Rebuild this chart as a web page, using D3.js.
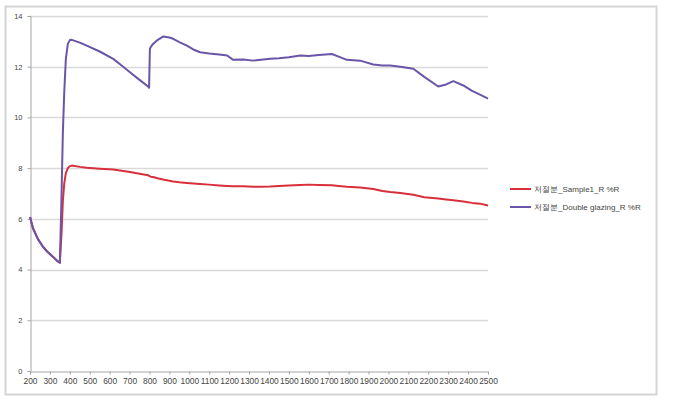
<!DOCTYPE html>
<html>
<head>
<meta charset="utf-8">
<script src="https://cdn.jsdelivr.net/npm/d3@7"></script>
<style>
  body { margin: 0; background: #fff; }
  svg { display: block; font-family: "Liberation Sans", "DejaVu Sans", sans-serif; }
</style>
</head>
<body>
<svg id="chart"></svg>
<script>
// wavelength (nm) and reflectance (%R)
const wavelength = [200, 215, 240, 265, 290, 316, 340, 350, 358, 365, 372, 380, 390, 400, 410,
  450, 485, 550, 618, 660, 702, 750, 793, 798, 802, 806, 818, 840, 868, 900, 919, 950, 988,
  1020, 1054, 1100, 1150, 1190, 1220, 1270, 1321, 1360, 1406, 1450, 1500, 1557, 1600, 1650,
  1716, 1750, 1791, 1858, 1924, 1970, 2009, 2060, 2125, 2180, 2250, 2290, 2326, 2376, 2420,
  2460, 2500];

const sample1 = [6.07, 5.63, 5.2, 4.9, 4.68, 4.5, 4.32, 4.27, 5.4, 6.7, 7.4, 7.8, 8.0, 8.08, 8.1,
  8.05, 8.02, 7.98, 7.95, 7.9, 7.85, 7.78, 7.72, 7.7, 7.68, 7.66, 7.65, 7.6, 7.55, 7.5, 7.47,
  7.44, 7.41, 7.39, 7.37, 7.35, 7.32, 7.3, 7.29, 7.29, 7.27, 7.27, 7.28, 7.3, 7.32, 7.34, 7.35,
  7.34, 7.33, 7.3, 7.27, 7.24, 7.18, 7.1, 7.06, 7.02, 6.95, 6.85, 6.8, 6.76, 6.73, 6.68, 6.63,
  6.6, 6.53];

const doubleGlazing = [6.07, 5.63, 5.2, 4.9, 4.68, 4.5, 4.32, 4.27, 6.8, 9.4, 11.0, 12.3, 12.9,
  13.05, 13.06, 12.95, 12.83, 12.6, 12.31, 12.05, 11.78, 11.48, 11.22, 11.17, 12.7, 12.77, 12.9,
  13.05, 13.19, 13.15, 13.1, 12.97, 12.83, 12.68, 12.57, 12.52, 12.48, 12.44, 12.27, 12.28, 12.24,
  12.27, 12.31, 12.33, 12.37, 12.44, 12.42, 12.46, 12.5, 12.4, 12.27, 12.24, 12.09, 12.05, 12.05,
  12.0, 11.92, 11.6, 11.22, 11.3, 11.43, 11.26, 11.05, 10.9, 10.74];

const seriesNames = ["저절분_Sample1_R %R", "저절분_Double glazing_R %R"];
const seriesColors = ["#d8303a", "#6a55a8"];
const xTicks = d3.range(200, 2501, 100);
const yTicks = [0, 2, 4, 6, 8, 10, 12, 14];

const width = 678, height = 402;
const margin = { top: 16, right: 190, bottom: 31, left: 30 };

let svg = d3.select("#chart")
  .attr("width", width)
  .attr("height", height);

// outer chart frame
svg.append("rect")
  .attr("x", 5.5).attr("y", 6.5)
  .attr("width", 651).attr("height", 388)
  .attr("fill", "none")
  .attr("stroke", "#d4d4d4")
  .attr("stroke-width", 2);

let scaleX = d3.scaleLinear().domain([200, 2500]).range([margin.left, width - margin.right]);
let scaleY = d3.scaleLinear().domain([0, 14]).range([height - margin.bottom, margin.top]);

// horizontal gridlines
svg.append("g")
  .selectAll("line")
  .data(yTicks.filter(d => d > 0))
  .enter()
  .append("line")
  .attr("x1", margin.left)
  .attr("x2", width - margin.right)
  .attr("y1", d => Math.round(scaleY(d)) + 0.5)
  .attr("y2", d => Math.round(scaleY(d)) + 0.5)
  .attr("stroke", "#d9d9d9")
  .attr("stroke-width", 1.5);

// y axis
let yAxis = svg.append("g")
  .attr("transform", "translate(" + (margin.left + 0.5) + ",0)")
  .call(d3.axisLeft(scaleY).tickValues(yTicks).tickSize(3).tickPadding(5));
yAxis.select(".domain").attr("stroke", "#a6a6a6");
yAxis.selectAll(".tick line").attr("stroke", "#a6a6a6");
yAxis.selectAll("text").attr("font-size", 7.5).attr("fill", "#444");

// x axis
let xAxis = svg.append("g")
  .attr("transform", "translate(0," + (Math.round(scaleY(0)) + 0.5) + ")")
  .call(d3.axisBottom(scaleX).tickValues(xTicks).tickFormat(d3.format("d")).tickSize(3).tickPadding(4));
xAxis.select(".domain").attr("stroke", "#a6a6a6");
xAxis.selectAll(".tick line").attr("stroke", "#a6a6a6");
xAxis.selectAll("text").attr("font-size", 8.4).attr("fill", "#444");

// lines
let line = d3.line()
  .x((d, i) => scaleX(wavelength[i]))
  .y(d => scaleY(d));

[sample1, doubleGlazing].forEach(function (series, i) {
  svg.append("path")
    .datum(series)
    .attr("fill", "none")
    .attr("stroke", seriesColors[i])
    .attr("stroke-width", 2)
    .attr("stroke-linejoin", "round")
    .attr("d", line);
});

// legend
let legend = svg.append("g")
  .selectAll("g")
  .data(seriesNames)
  .enter()
  .append("g")
  .attr("transform", (d, i) => "translate(510," + (189 + i * 18) + ")");

legend.append("line")
  .attr("x1", 0).attr("x2", 21)
  .attr("stroke", (d, i) => seriesColors[i])
  .attr("stroke-width", 2);

legend.append("text")
  .attr("x", 24)
  .attr("y", 3)
  .attr("font-size", 8)
  .attr("fill", "#444")
  .text(d => d);
</script>
</body>
</html>
